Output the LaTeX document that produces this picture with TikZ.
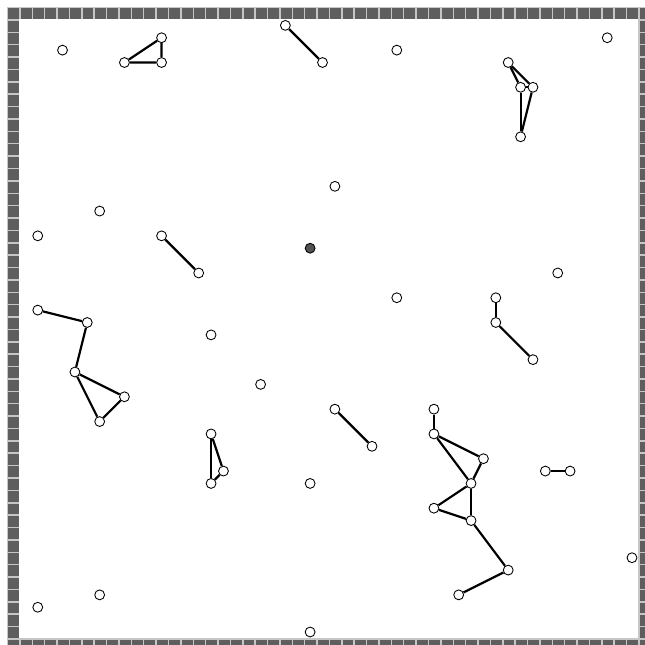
\documentclass[tikz,border=0pt]{standalone}
\usepackage{tikz}
\usetikzlibrary{positioning}

\definecolor{wallgray}{HTML}{5E5E5E}
\definecolor{gapgray}{HTML}{C6C6C6}

% one square of the wall
\newcommand{\wallcell}[2]{%
  \fill[gapgray] (#1-0.5,#2-0.5) rectangle (#1+0.5,#2+0.5);
  \fill[wallgray] (#1-0.38,#2-0.38) rectangle (#1+0.5,#2+0.5);}

\begin{document}
\begin{tikzpicture}[
    x=3mm, y=-3mm,
    vtx/.style={circle, draw, fill=white, line width=0.6pt, inner sep=0pt, minimum size=6.8pt},
    hub/.style={circle, draw, fill=black!68, line width=0.6pt, inner sep=0pt, minimum size=6.8pt},
    link/.style={line width=1.5pt}
]
    \useasboundingbox (-1.05,-1.05) rectangle (51.05,51.05);

    % Wall
    \foreach \i in {0,...,51} {
        \wallcell{\i}{0} \wallcell{\i}{51} \wallcell{0}{\i} \wallcell{51}{\i}
    }

    % Lone points
    \node[vtx] (s1) at (4,3) {};
    \node[vtx] (s2) at (31,3) {};
    \node[vtx] (s3) at (48,2) {};
    \node[vtx] (s4) at (26,14) {};
    \node[vtx] (s5) at (7,16) {};
    \node[vtx] (s6) at (2,18) {};
    \node[vtx] (s7) at (44,21) {};
    \node[vtx] (s8) at (31,23) {};
    \node[vtx] (s9) at (16,26) {};
    \node[vtx] (s10) at (20,30) {};
    \node[vtx] (s11) at (24,38) {};
    \node[vtx] (s12) at (50,44) {};
    \node[vtx] (s13) at (2,48) {};
    \node[vtx] (s14) at (7,47) {};
    \node[vtx] (s15) at (24,50) {};

    % Centre
    \node[hub] (hub) at (24,19) {};

    % Groups
    \node[vtx] (a1) at (9,4) {};
    \node[vtx] (a2) at (12,2) {};
    \node[vtx] (a3) at (12,4) {};

    \node[vtx] (b1) at (22,1) {};
    \node[vtx] (b2) at (25,4) {};

    \node[vtx] (c1) at (40,4) {};
    \node[vtx] (c2) at (41,6) {};
    \node[vtx] (c3) at (42,6) {};
    \node[vtx] (c4) at (41,10) {};

    \node[vtx] (d1) at (12,18) {};
    \node[vtx] (d2) at (15,21) {};

    \node[vtx] (e1) at (39,23) {};
    \node[vtx] (e2) at (39,25) {};
    \node[vtx] (e3) at (42,28) {};

    \node[vtx] (f1) at (2,24) {};
    \node[vtx] (f2) at (6,25) {};
    \node[vtx] (f3) at (5,29) {};
    \node[vtx] (f4) at (9,31) {};
    \node[vtx] (f5) at (7,33) {};

    \node[vtx] (g1) at (26,32) {};
    \node[vtx] (g2) at (29,35) {};

    \node[vtx] (h1) at (16,34) {};
    \node[vtx] (h2) at (17,37) {};
    \node[vtx] (h3) at (16,38) {};

    \node[vtx] (k1) at (34,32) {};
    \node[vtx] (k2) at (34,34) {};
    \node[vtx] (k3) at (38,36) {};
    \node[vtx] (k4) at (37,38) {};
    \node[vtx] (k5) at (34,40) {};
    \node[vtx] (k6) at (37,41) {};
    \node[vtx] (k7) at (40,45) {};
    \node[vtx] (k8) at (36,47) {};

    \node[vtx] (m1) at (43,37) {};
    \node[vtx] (m2) at (45,37) {};

    % Links
    \draw[link] (a1) -- (a2) -- (a3) -- (a1);
    \draw[link] (b1) -- (b2);
    \draw[link] (c1) -- (c2);
    \draw[link] (c1) -- (c3);
    \draw[link] (c2) -- (c3);
    \draw[link] (c2) -- (c4);
    \draw[link] (c3) -- (c4);
    \draw[link] (d1) -- (d2);
    \draw[link] (e1) -- (e2);
    \draw[link] (e2) -- (e3);
    \draw[link] (f1) -- (f2);
    \draw[link] (f2) -- (f3);
    \draw[link] (f3) -- (f4);
    \draw[link] (f4) -- (f5);
    \draw[link] (f5) -- (f3);
    \draw[link] (g1) -- (g2);
    \draw[link] (h1) -- (h2);
    \draw[link] (h2) -- (h3);
    \draw[link] (h1) -- (h3);
    \draw[link] (k1) -- (k2);
    \draw[link] (k2) -- (k3);
    \draw[link] (k2) -- (k4);
    \draw[link] (k3) -- (k4);
    \draw[link] (k4) -- (k5);
    \draw[link] (k4) -- (k6);
    \draw[link] (k5) -- (k6);
    \draw[link] (k6) -- (k7);
    \draw[link] (k7) -- (k8);
    \draw[link] (m1) -- (m2);

\end{tikzpicture}
\end{document}
